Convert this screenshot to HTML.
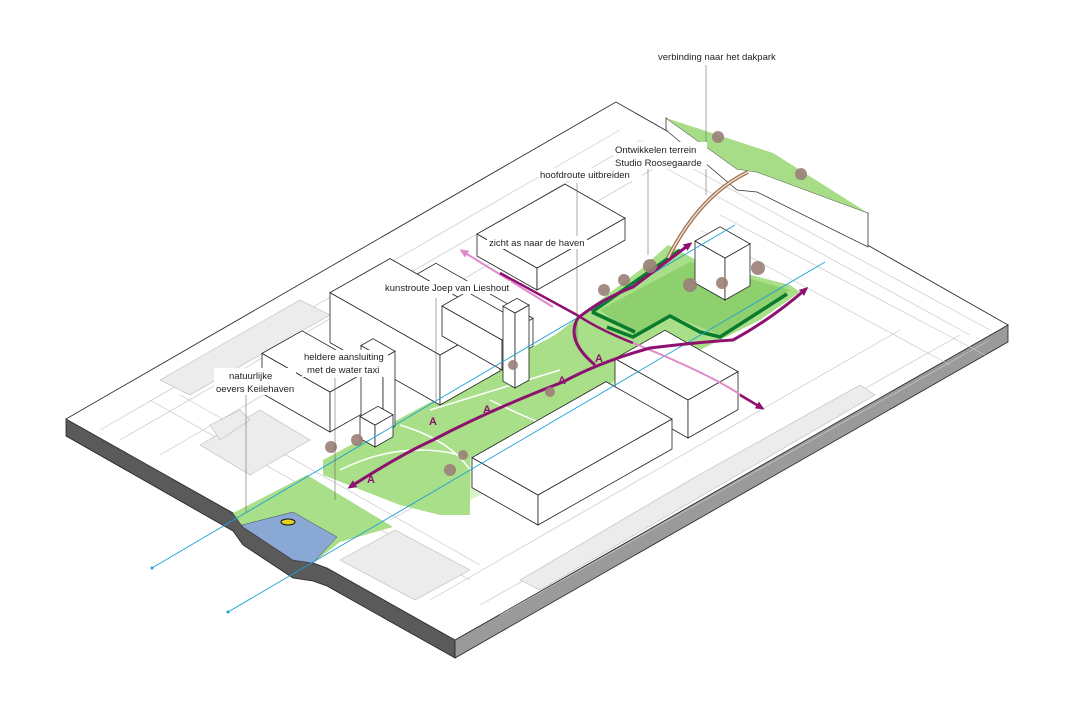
<!DOCTYPE html>
<html><head><meta charset="utf-8"><style>
html,body{margin:0;padding:0;background:#fff;width:1080px;height:720px;overflow:hidden}
svg{display:block}
text{font-family:"Liberation Sans",sans-serif;font-size:9.5px;fill:#222}
</style></head><body>
<svg id="s" width="1080" height="720" viewBox="0 0 1080 720" xmlns="http://www.w3.org/2000/svg">
<polygon points="66,419 233,513 243,527 293,560 313,563 327,568 455,640 455,658 327,586 313,581 293,578 243,545 233,531 66,436" fill="#5a5a5a" stroke="#222" stroke-width="0.8"/>
<polygon points="455,640 1008,325 1008,342 455,658" fill="#9a9a9a" stroke="#222" stroke-width="0.8"/>
<polygon points="66,419 616,102 1008,325 455,640 327,568 313,563 293,560 243,527 233,513" fill="#fff" stroke="#333" stroke-width="0.9"/>
<g stroke="#c8c8c8" stroke-width="0.7" fill="none">
<line x1="100" y1="430" x2="620" y2="130"/>
<line x1="120" y1="440" x2="640" y2="140"/>
<line x1="160" y1="455" x2="660" y2="165"/>
<line x1="640" y1="140" x2="990" y2="330"/>
<line x1="660" y1="165" x2="970" y2="335"/>
<line x1="700" y1="230" x2="950" y2="365"/>
<line x1="720" y1="215" x2="985" y2="355"/>
<line x1="480" y1="605" x2="960" y2="335"/>
<line x1="500" y1="615" x2="990" y2="340"/>
<line x1="430" y1="600" x2="900" y2="330"/>
<line x1="390" y1="520" x2="700" y2="350"/>
<line x1="150" y1="400" x2="470" y2="580"/>
<line x1="180" y1="395" x2="480" y2="565"/>
</g>
<g fill="#ececec" stroke="#bbb" stroke-width="0.6">
<polygon points="160,380 300,300 330,315 190,395"/>
<polygon points="340,560 395,530 470,570 415,600"/>
<polygon points="520,580 690,480 860,385 875,395 540,590"/>
<polygon points="200,445 260,410 310,440 250,475"/>
<polygon points="210,425 240,410 250,420 220,440"/>
</g>
<polygon points="666,118 737,169 757,172 868,213 868,247 757,192 737,190 666,130" fill="#fff" stroke="#333" stroke-width="0.8"/>
<polygon points="666,118 773,153 868,213 757,172 737,169" fill="#a6dd86"/>
<polygon points="323,460 555,335 600,300 640,270 668,245 700,262 790,285 800,292 760,320 700,350 640,360 613,382 540,420 470,458 470,515 440,515 400,505 323,475" fill="#a8df88"/>
<polygon points="470,458 540,420 613,382 650,360 720,380 640,420 470,500" fill="#d9f2c8"/>
<polygon points="600,310 690,262 790,290 720,335 670,315 633,335" fill="#8fd06e"/>
<polygon points="233,513 307,475 393,527 340,542 313,563 293,560 243,527" fill="#a8df88"/>
<polygon points="242,525 293,512 337,537 313,563 293,560 243,527" fill="#8aa8d4" stroke="#445" stroke-width="0.5"/>
<ellipse cx="288" cy="522" rx="7" ry="3" fill="#e8d020" stroke="#111"/>
<g stroke="#fff" stroke-width="1.5" fill="none">
<path d="M340,470 Q400,440 460,455"/><path d="M400,425 Q450,440 470,470"/><path d="M430,410 L560,370"/><path d="M490,400 Q530,420 560,430"/>
</g>
<g id="bx"></g>
<g stroke="#0a7a2c" stroke-width="3.5" fill="none"><path d="M592,312 L680,250"/><path d="M607,327 L633,337 L670,316 L700,332 L720,337 L787,294"/><path d="M592,312 L635,332"/></g>
<path d="M668,258 Q700,195 748,172" stroke="#a07050" stroke-width="4" fill="none"/>
<path d="M668,258 Q700,195 748,172" stroke="#f0e0d0" stroke-width="1.5" fill="none"/>
<g stroke="#1aa0d8" stroke-width="0.9" fill="none"><line x1="152" y1="568" x2="735" y2="225"/><line x1="228" y1="612" x2="825" y2="262"/></g>
<circle cx="152" cy="568" r="1.5" fill="#1aa0d8"/><circle cx="228" cy="612" r="1.5" fill="#1aa0d8"/>
<defs><marker id="m" markerUnits="userSpaceOnUse" markerWidth="10" markerHeight="10" refX="6" refY="4" orient="auto"><path d="M0,0 L9,4 L0,8 z" fill="#8e1070"/></marker>
<marker id="p" markerUnits="userSpaceOnUse" markerWidth="10" markerHeight="10" refX="6" refY="4" orient="auto"><path d="M0,0 L9,4 L0,8 z" fill="#e08ac8"/></marker>
<marker id="ms" markerUnits="userSpaceOnUse" markerWidth="10" markerHeight="10" refX="3" refY="4" orient="auto"><path d="M9,0 L0,4 L9,8 z" fill="#8e1070"/></marker>
<marker id="ps" markerUnits="userSpaceOnUse" markerWidth="10" markerHeight="10" refX="3" refY="4" orient="auto"><path d="M9,0 L0,4 L9,8 z" fill="#e08ac8"/></marker></defs>
<path d="M462,251 L553,307" stroke="#e08ac8" stroke-width="2" fill="none" marker-start="url(#ps)"/>
<path d="M500,273 L577,315 Q600,330 633,343" stroke="#8e1070" stroke-width="2.5" fill="none"/>
<path d="M633,343 Q700,370 733,390 L762,408" stroke="#e08ac8" stroke-width="2" fill="none"/>
<path d="M740,395 L762,408" stroke="#8e1070" stroke-width="2.5" fill="none" marker-end="url(#m)"/>
<path d="M350,487 Q400,455 433,440 Q490,410 563,382 Q600,362 650,348 Q700,342 733,340 Q770,320 806,289" stroke="#8e1070" stroke-width="3" fill="none" marker-start="url(#ms)" marker-end="url(#m)"/>
<path d="M595,365 Q565,340 578,318 Q600,300 633,287 L690,244" stroke="#8e1070" stroke-width="3" fill="none" marker-end="url(#m)"/>
<g><text x="367" y="483" style="fill:#8e1070;font-size:11px;font-weight:bold">A</text><text x="429" y="425" style="fill:#8e1070;font-size:11px;font-weight:bold">A</text><text x="483" y="413" style="fill:#8e1070;font-size:11px;font-weight:bold">A</text><text x="558" y="384" style="fill:#8e1070;font-size:11px;font-weight:bold">A</text><text x="595" y="362" style="fill:#8e1070;font-size:11px;font-weight:bold">A</text></g>
<g fill="#9b8078" opacity="0.9">
<circle cx="331" cy="447" r="6"/><circle cx="357" cy="440" r="6"/><circle cx="450" cy="470" r="6"/><circle cx="463" cy="455" r="5"/><circle cx="513" cy="365" r="5"/><circle cx="550" cy="392" r="5"/>
<circle cx="604" cy="290" r="6"/><circle cx="624" cy="280" r="6"/><circle cx="650" cy="266" r="7"/><circle cx="690" cy="285" r="7"/><circle cx="758" cy="268" r="7"/><circle cx="722" cy="283" r="6"/><circle cx="718" cy="137" r="6"/><circle cx="801" cy="174" r="6"/>
</g>
<g stroke="#555" stroke-width="0.5"><line x1="706" y1="65" x2="706" y2="195"/><line x1="648" y1="168" x2="648" y2="255"/><line x1="577" y1="183" x2="577" y2="340"/><line x1="436" y1="298" x2="436" y2="400"/><line x1="335" y1="378" x2="335" y2="500"/><line x1="246" y1="394" x2="246" y2="512"/></g>
<g fill="#fff"><rect x="656" y="50" width="130" height="13"/><rect x="613" y="142" width="94" height="27"/><rect x="538" y="168" width="104" height="13"/><rect x="487" y="236" width="100" height="13"/><rect x="383" y="281" width="128" height="13"/><rect x="302" y="350" width="86" height="27"/><rect x="214" y="368" width="82" height="27"/></g>
<text x="658" y="60">verbinding naar het dakpark</text>
<text x="615" y="153">Ontwikkelen terrein</text><text x="615" y="166">Studio Roosegaarde</text>
<text x="540" y="178">hoofdroute uitbreiden</text>
<text x="489" y="246">zicht as naar de haven</text>
<text x="385" y="291">kunstroute Joep van Lieshout</text>
<text x="304" y="360">heldere aansluiting</text><text x="307" y="373">met de water taxi</text>
<text x="229" y="379">natuurlijke</text><text x="216" y="392">oevers Keilehaven</text>
</svg>
<script>
(function(){
var g=document.getElementById('bx');var NS='http://www.w3.org/2000/svg';
function poly(pts){var p=document.createElementNS(NS,'polygon');p.setAttribute('points',pts.map(function(q){return q[0].toFixed(1)+','+q[1].toFixed(1)}).join(' '));p.setAttribute('fill','#fff');p.setAttribute('stroke','#222');p.setAttribute('stroke-width','0.8');g.appendChild(p);}
function box(x,y,a,b,h){var k=0.567;var P=[x,y],L=[x-a,y-a*k],R=[x+b,y-b*k],B=[x-a+b,y-a*k-b*k];
function u(q){return [q[0],q[1]-h]}
poly([P,L,u(L),u(P)]);poly([P,R,u(R),u(P)]);poly([u(P),u(L),u(B),u(R)]);}
var list=[[537,290,60,88,22],[500,365,97,33,28],[330,432,68,40,40],[440,405,110,60,50],[502,370,60,25,30],[515,388,12,14,75],[383,433,22,12,75],[375,447,15,18,22],[725,300,30,25,42],[688,438,73,50,38],[538,525,66,134,30]];
list.forEach(function(b){box.apply(null,b)});
})();
</script>
</body></html>
